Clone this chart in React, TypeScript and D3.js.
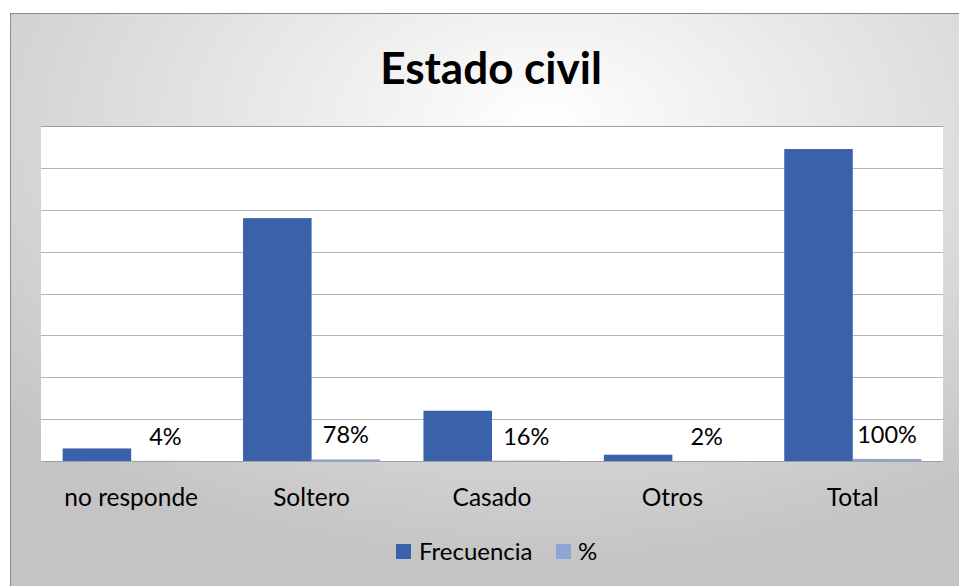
import React from "react";
import * as d3 from "d3";

const categories = ["no responde", "Soltero", "Casado", "Otros", "Total"];
const frecuencia = [6, 116, 24, 3, 149];
const porcentaje = [0.04, 0.78, 0.16, 0.02, 1];
const pctLabels = ["4%", "78%", "16%", "2%", "100%"];
const seriesNames = ["Frecuencia", "%"];
const yTicks = [0, 20, 40, 60, 80, 100, 120, 140, 160];

const W = 959;
const H = 586;
const plot = { left: 41, right: 943, top: 126, bottom: 461 };
const FONT = "Lato, 'Open Sans', sans-serif";
const C1 = "#3A62AA";
const C2 = "#8EA5D6";

export default function App() {
  const x = d3.scaleBand<string>().domain(categories).range([plot.left, plot.right]).paddingInner(0.24).paddingOuter(0.12);
  const xs = d3.scaleBand<string>().domain(seriesNames).range([0, x.bandwidth()]);
  const y = d3.scaleLinear().domain([0, 160]).range([plot.bottom, plot.top]);

  return (
    <div style={{ position: "fixed", left: 0, top: 0, width: W, height: H, margin: 0 }}>
      <svg width={W} height={H} style={{ display: "block" }}>
        <defs>
          <radialGradient id="bg" cx="0.55" cy="0.18" r="0.75" fx="0.55" fy="0.18">
            <stop offset="0" stopColor="#ffffff" />
            <stop offset="1" stopColor="#c4c4c4" />
          </radialGradient>
        </defs>
        <rect x={0} y={0} width={W} height={H} fill="#ffffff" />
        <rect x={10.5} y={13.5} width={W + 10} height={H + 10} fill="url(#bg)" stroke="#8a8a8a" strokeWidth={1} />
        <text x={491} y={84} textAnchor="middle" fontFamily={FONT} fontWeight="bold" fontSize={44} fill="#000">
          Estado civil
        </text>
        <rect x={plot.left} y={plot.top} width={plot.right - plot.left} height={plot.bottom - plot.top} fill="#ffffff" />
        {yTicks.map((t) => (
          <line key={t} x1={plot.left} x2={plot.right} y1={Math.round(y(t)) + 0.5} y2={Math.round(y(t)) + 0.5}
            stroke={t === 0 || t === 160 ? "#a0a0a0" : "#b4b4b4"} strokeWidth={1.2} />
        ))}
        {categories.map((c, i) => (
          <g key={c}>
            <rect x={(x(c) ?? 0) + (xs("Frecuencia") ?? 0)} y={y(frecuencia[i])} width={xs.bandwidth()}
              height={y(0) - y(frecuencia[i])} fill={C1} />
            <rect x={(x(c) ?? 0) + (xs("%") ?? 0)} y={y(porcentaje[i])} width={xs.bandwidth()}
              height={y(0) - y(porcentaje[i])} fill={C2} />
            <text x={(x(c) ?? 0) + (xs("%") ?? 0) + xs.bandwidth() / 2} y={y(porcentaje[i]) - 16}
              textAnchor="middle" fontFamily={FONT} fontSize={23.5} fill="#000">
              {pctLabels[i]}
            </text>
            <text x={(x(c) ?? 0) + x.bandwidth() / 2} y={506} textAnchor="middle" fontFamily={FONT} fontSize={24.5} fill="#000">
              {c}
            </text>
          </g>
        ))}
        <rect x={396} y={544} width={15} height={15} fill={C1} />
        <text x={419} y={560} fontFamily={FONT} fontSize={24} fill="#000">{seriesNames[0]}</text>
        <rect x={556} y={544} width={15} height={15} fill={C2} />
        <text x={578} y={560} fontFamily={FONT} fontSize={24} fill="#000">{seriesNames[1]}</text>
      </svg>
    </div>
  );
}
